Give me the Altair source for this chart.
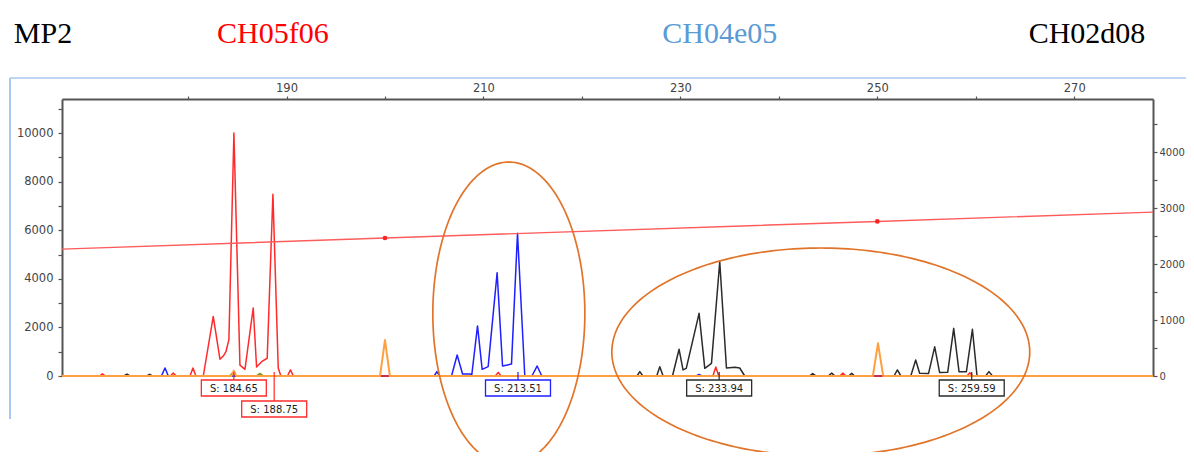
import altair as alt
import pandas as pd
import numpy as np

# ---------------- data ----------------
red_size = [167.2, 171.0, 171.3, 171.6, 178.2, 178.5, 178.8, 180.2, 180.5, 180.8, 181.55, 182.56,
            183.24, 183.58, 183.85, 184.15, 184.66, 185.27, 185.78, 186.62, 186.96, 187.47, 188.04,
            188.62, 189.16, 189.43, 190.1, 190.4, 190.7, 211.2, 211.5, 211.8, 233.3, 233.6, 233.9,
            246.2, 246.5, 246.8, 259.1, 259.4, 259.7, 278.0]
red_height = [0, 0, 90, 0, 0, 120, 0, 0, 330, 0, 0, 2450, 690, 820, 1000, 1500, 10000, 450, 275,
              2800, 370, 590, 730, 7480, 330, 0, 0, 250, 0, 0, 150, 0, 0, 370, 0, 0, 120, 0, 0, 130, 0, 0]

blue_size = [167.2, 177.3, 177.66, 178.0, 205.0, 205.27, 205.55, 206.76, 207.33, 207.88, 208.62,
             208.82, 209.4, 209.87, 210.48, 211.39, 211.94, 212.85, 213.46, 214.2, 214.92, 215.45,
             215.93, 231.6, 231.9, 232.2, 278.0]
blue_height = [0, 0, 330, 0, 0, 180, 0, 0, 865, 80, 80, 60, 2060, 275, 385, 4250, 410, 490, 5870,
               0, 0, 410, 0, 0, 60, 0, 0]

black_size = [167.2, 173.5, 173.8, 174.1, 175.8, 176.1, 176.4, 225.6, 225.88, 226.2, 227.6, 227.91,
              228.25, 229.2, 229.87, 230.27, 230.6, 231.9, 232.48, 233.16, 234.0, 234.68, 235.53,
              236.03, 236.54, 243.1, 243.44, 243.8, 245.0, 245.37, 245.7, 247.1, 247.4, 247.7, 251.7,
              252.04, 252.4, 253.4, 253.9, 254.3, 255.2, 255.83, 256.33, 257.15, 257.76, 258.3,
              259.05, 259.66, 260.13, 261.0, 261.34, 261.7, 278.0]
black_height = [0, 0, 80, 0, 0, 70, 0, 0, 180, 0, 0, 380, 0, 0, 1100, 250, 315, 2580, 315, 520, 4700,
                330, 360, 330, 0, 0, 100, 0, 0, 120, 0, 0, 110, 0, 0, 250, 0, 0, 660, 110, 100, 1200,
                140, 150, 1960, 180, 180, 1920, 0, 0, 180, 0, 0]

orange_size = [167.2, 184.4, 184.65, 184.9, 199.5, 200.0, 200.5, 249.55, 250.07, 250.6, 278.0]
orange_height = [0, 0, 220, 0, 0, 1480, 0, 0, 1345, 0, 0]

green_size = [167.2, 184.2, 184.5, 184.8, 186.9, 187.3, 187.7, 278.0]
green_height = [0, 0, 130, 0, 0, 110, 0, 0]

# sizing curve (right axis)
sizing_size = [167.2, 200.0, 250.0, 278.0]
sizing_value = [2268, 2466, 2762, 2929]
standard_size = [200.0, 250.0]
standard_value = [2466, 2762]

# peak call labels
label_text = ["S: 184.65", "S: 188.75", "S: 213.51", "S: 233.94", "S: 259.59"]
label_size = [184.65, 188.75, 213.51, 233.94, 259.59]
label_row = [0, 1, 0, 0, 0]
label_dye = ["red", "red", "blue", "black", "black"]

# locus names above the plot
locus_name = ["MP2", "CH05f06", "CH04e05", "CH02d08"]
locus_center = [165.27, 188.62, 234.0, 271.3]
locus_color = ["#000000", "#ff0000", "#5b9bd5", "#000000"]

# highlighted regions (centre size, centre height, half width in bp, half height)
ell_cx = [212.58, 244.26]
ell_cy = [2572, 988]
ell_rx = [7.72, 21.22]
ell_ry = [6234, 4280]

# ---------------- scales / axes ----------------
x_scale = alt.Scale(domain=[167.2, 278.0], nice=False, zero=False)
yl_scale = alt.Scale(domain=[0, 11400], nice=False, zero=True)
yr_scale = alt.Scale(domain=[0, 4950], nice=False, zero=True)

axis_common = dict(grid=False, domainColor="#555555", domainWidth=2, tickColor="#555555",
                   tickWidth=1.2, labelFont="DejaVu Sans",
                   labelColor="#444444", title=None)

x_axis = alt.Axis(orient="top", values=list(range(180, 271, 10)),
                  labelExpr="(datum.value - 190) % 20 == 0 ? datum.label : ''",
                  tickSize=3, labelPadding=3, format="d", labelFontSize=11.5, **axis_common)
left_axis = alt.Axis(orient="left", values=list(range(0, 11001, 1000)),
                     labelExpr="datum.value % 2000 == 0 ? datum.label : ''",
                     tickSize=4, labelPadding=5, format="d", labelFontSize=11.5, **axis_common)
right_axis = alt.Axis(orient="right", values=list(range(0, 4501, 500)),
                      labelExpr="datum.value % 1000 == 0 ? datum.label : ''",
                      tickSize=4, labelPadding=2, format="d", labelFontSize=10, **axis_common)

dye_domain = ["green", "black", "blue", "red", "orange"]
dye_range = ["#7a9a30", "#2b2b2b", "#1f1fff", "#ff2b2b", "#ffa040"]
dye_scale = alt.Scale(domain=dye_domain, range=dye_range)

X = lambda f="size": alt.X(f"{f}:Q", scale=x_scale, axis=x_axis)

# ---------------- traces ----------------
trace_defs = [
    ("green", green_size, green_height, 1.3),
    ("black", black_size, black_height, 1.5),
    ("blue", blue_size, blue_height, 1.5),
    ("red", red_size, red_height, 1.5),
    ("orange", orange_size, orange_height, 2.0),
]
trace_layers = []
for dye, s, h, w in trace_defs:
    df = pd.DataFrame({"size": s, "height": h, "dye": dye})
    trace_layers.append(
        alt.Chart(df).mark_line(strokeWidth=w, strokeJoin="round",
                                color=dye_range[dye_domain.index(dye)])
        .encode(x=X(), y=alt.Y("height:Q", scale=yl_scale, axis=left_axis))
    )

# ---------------- ellipses ----------------
t = np.linspace(0, 2 * np.pi, 241)
ell_rows = []
for k in range(len(ell_cx)):
    for i, a in enumerate(t):
        ell_rows.append({"k": k, "i": i,
                         "size": ell_cx[k] + ell_rx[k] * np.cos(a),
                         "height": ell_cy[k] + ell_ry[k] * np.sin(a)})
ell_df = pd.DataFrame(ell_rows)
ellipses = alt.Chart(ell_df).mark_line(color="#e2742a", strokeWidth=1.7).encode(
    x=X(), y=alt.Y("height:Q", scale=yl_scale, axis=left_axis),
    detail="k:N", order="i:Q")

# ---------------- peak labels ----------------
lab_df = pd.DataFrame({"label": label_text, "size": label_size, "row": label_row, "dye": label_dye})
lab_base = alt.Chart(lab_df).transform_calculate(
    bx0="datum.size - 3.3", bx1="datum.size + 3.3",
    by0="281 + datum.row * 21", by1="297 + datum.row * 21",
    ty="289.5 + datum.row * 21", cy0="273")
connectors = lab_base.mark_rule(strokeWidth=1.2).encode(
    x=X(), y=alt.Y("cy0:Q", scale=None), y2="by0:Q",
    color=alt.Color("dye:N", scale=dye_scale, legend=None))
boxes = lab_base.mark_rect(fill="white", strokeWidth=1.3).encode(
    x=X("bx0"), x2="bx1:Q", y=alt.Y("by0:Q", scale=None), y2="by1:Q",
    stroke=alt.Stroke("dye:N", scale=dye_scale, legend=None))
box_text = lab_base.mark_text(font="DejaVu Sans", fontSize=10, color="#222222",
                              align="center", baseline="middle").encode(
    x=X(), y=alt.Y("ty:Q", scale=None), text="label:N")

# ---------------- locus titles ----------------
title_layers = []
for name, c, col in zip(locus_name, locus_center, locus_color):
    tdf = pd.DataFrame({"name": [name], "size": [c]})
    title_layers.append(
        alt.Chart(tdf).mark_text(font="Liberation Serif", fontSize=30, align="center",
                                 baseline="alphabetic", color=col).encode(
            x=X(), y=alt.value(-56), text="name:N"))

# ---------------- window frame ----------------
one = pd.DataFrame({"a": [0]})
frame_v = alt.Chart(one).mark_rule(color="#a8c8f0", strokeWidth=2).encode(
    x=alt.value(-52), y=alt.value(-21), y2=alt.value(320))
frame_h = alt.Chart(one).mark_rule(color="#a8c8f0", strokeWidth=1.5).encode(
    x=alt.value(-52), x2=alt.value(1140), y=alt.value(-21))

# ---------------- right axis: sizing curve ----------------
siz_df = pd.DataFrame({"size": sizing_size, "value": sizing_value})
std_df = pd.DataFrame({"size": standard_size, "value": standard_value})
sizing_line = alt.Chart(siz_df).mark_line(color="#ff5c5c", strokeWidth=1.4).encode(
    x=X(), y=alt.Y("value:Q", scale=yr_scale, axis=right_axis))
sizing_dots = alt.Chart(std_df).mark_point(filled=True, color="#ff2020", size=22, opacity=1).encode(
    x=X(), y=alt.Y("value:Q", scale=yr_scale, axis=right_axis))

left = alt.layer(frame_v, frame_h, *trace_layers, connectors, boxes, box_text, ellipses,
                 *title_layers)
right = alt.layer(sizing_line, sizing_dots)

chart = alt.layer(left, right).resolve_scale(y="independent").properties(
    width=1091, height=277,
    autosize=alt.AutoSizeParams(type="none"),
    padding={"left": 54, "top": 91, "right": 33, "bottom": 76},
).configure_view(stroke=None).configure(background="white")

chart.save("out.html", embed_options={"renderer": "svg", "actions": False})
